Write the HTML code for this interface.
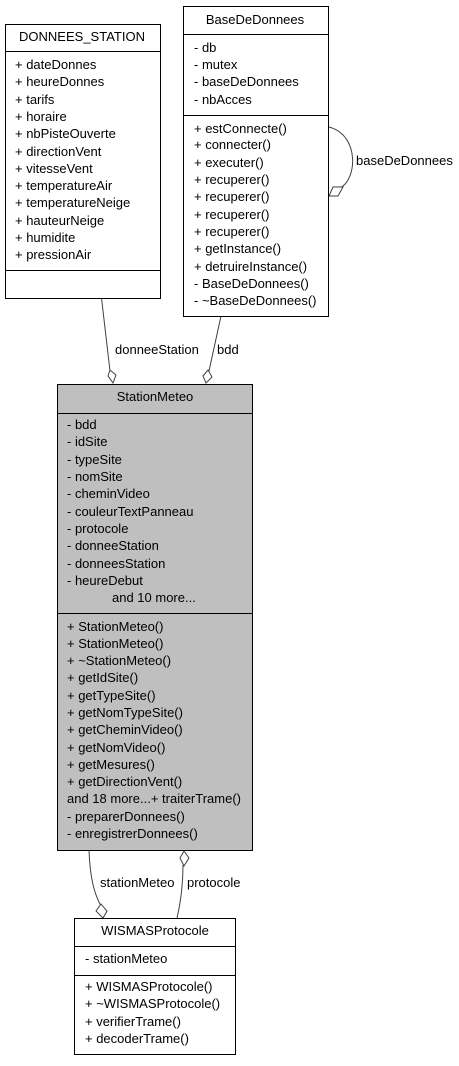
<!DOCTYPE html>
<html><head><meta charset="utf-8"><style>
html,body{margin:0;padding:0;background:#fff;}
svg text{font-family:"Liberation Sans",sans-serif;font-size:13px;fill:#000;}
</style></head><body>
<svg width="459" height="1061" viewBox="0 0 459 1061" xmlns="http://www.w3.org/2000/svg">
<g fill="none" stroke="#404040" stroke-width="1">
<path d="M101.5,298 L110,371"/>
<polygon points="113,383 108,376 110,370 116,375" fill="#fff"/>
<path d="M221,316 L209,371"/>
<polygon points="206,383 203,376 208,370 212,377" fill="#fff"/>
<path d="M329,127 C360,135 357,180 340,188"/>
<polygon points="329,196 333,187 343,187 338,196" fill="#fff"/>
<path d="M89,850 C90,880 95,895 101,906"/>
<polygon points="103,918 96,911 101,904 107,911" fill="#fff"/>
<path d="M183,865 C183,885 180,905 177,918"/>
<polygon points="184,851 180,858 184,866 189,858" fill="#fff"/>
</g>
<g stroke="#000" stroke-width="1">
<rect x="5.5" y="24.5" width="155" height="274" fill="#fff"/>
<line x1="5" y1="51.5" x2="160" y2="51.5"/>
<line x1="5" y1="270.5" x2="160" y2="270.5"/>
<rect x="183.5" y="6.5" width="145" height="310" fill="#fff"/>
<line x1="183" y1="34.5" x2="328" y2="34.5"/>
<line x1="183" y1="115.5" x2="328" y2="115.5"/>
<rect x="57.5" y="384.5" width="195" height="466" fill="#bfbfbf"/>
<line x1="57" y1="413.5" x2="252" y2="413.5"/>
<line x1="57" y1="613.5" x2="252" y2="613.5"/>
<rect x="74.5" y="918.5" width="161" height="136" fill="#fff"/>
<line x1="74" y1="946.5" x2="235" y2="946.5"/>
<line x1="74" y1="975.5" x2="235" y2="975.5"/>
</g>
<text x="82" y="41" text-anchor="middle">DONNEES_STATION</text>
<g>
<text x="15" y="69">+ dateDonnes</text>
<text x="15" y="86">+ heureDonnes</text>
<text x="15" y="104">+ tarifs</text>
<text x="15" y="121">+ horaire</text>
<text x="15" y="138">+ nbPisteOuverte</text>
<text x="15" y="156">+ directionVent</text>
<text x="15" y="173">+ vitesseVent</text>
<text x="15" y="190">+ temperatureAir</text>
<text x="15" y="207">+ temperatureNeige</text>
<text x="15" y="225">+ hauteurNeige</text>
<text x="15" y="242">+ humidite</text>
<text x="15" y="259">+ pressionAir</text>
</g>
<text x="255" y="24" text-anchor="middle">BaseDeDonnees</text>
<text x="194" y="52">- db</text>
<text x="194" y="69">- mutex</text>
<text x="194" y="86">- baseDeDonnees</text>
<text x="194" y="104">- nbAcces</text>
<text x="194" y="133">+ estConnecte()</text>
<text x="194" y="149">+ connecter()</text>
<text x="194" y="167">+ executer()</text>
<text x="194" y="184">+ recuperer()</text>
<text x="194" y="201">+ recuperer()</text>
<text x="194" y="219">+ recuperer()</text>
<text x="194" y="236">+ recuperer()</text>
<text x="194" y="253">+ getInstance()</text>
<text x="194" y="271">+ detruireInstance()</text>
<text x="194" y="288">- BaseDeDonnees()</text>
<text x="194" y="305">- ~BaseDeDonnees()</text>
<text x="356" y="165">baseDeDonnees</text>
<text x="115" y="354">donneeStation</text>
<text x="217" y="354">bdd</text>
<text x="155" y="401" text-anchor="middle">StationMeteo</text>
<g>
<text x="67" y="429">- bdd</text>
<text x="67" y="446">- idSite</text>
<text x="67" y="464">- typeSite</text>
<text x="67" y="481">- nomSite</text>
<text x="67" y="498">- cheminVideo</text>
<text x="67" y="516">- couleurTextPanneau</text>
<text x="67" y="533">- protocole</text>
<text x="67" y="550">- donneeStation</text>
<text x="67" y="568">- donneesStation</text>
<text x="67" y="585">- heureDebut</text>
<text x="112" y="602">and 10 more...</text>
<text x="67" y="631">+ StationMeteo()</text>
<text x="67" y="648">+ StationMeteo()</text>
<text x="67" y="665">+ ~StationMeteo()</text>
<text x="67" y="682">+ getIdSite()</text>
<text x="67" y="700">+ getTypeSite()</text>
<text x="67" y="717">+ getNomTypeSite()</text>
<text x="67" y="734">+ getCheminVideo()</text>
<text x="67" y="752">+ getNomVideo()</text>
<text x="67" y="769">+ getMesures()</text>
<text x="67" y="786">+ getDirectionVent()</text>
<text x="67" y="803">and 18 more...+ traiterTrame()</text>
<text x="67" y="821">- preparerDonnees()</text>
<text x="67" y="838">- enregistrerDonnees()</text>
</g>
<text x="100" y="887">stationMeteo</text>
<text x="187" y="887">protocole</text>
<text x="155" y="935" text-anchor="middle">WISMASProtocole</text>
<text x="85" y="963">- stationMeteo</text>
<text x="85" y="991">+ WISMASProtocole()</text>
<text x="85" y="1008">+ ~WISMASProtocole()</text>
<text x="85" y="1026">+ verifierTrame()</text>
<text x="85" y="1043">+ decoderTrame()</text>
</svg>
</body></html>
